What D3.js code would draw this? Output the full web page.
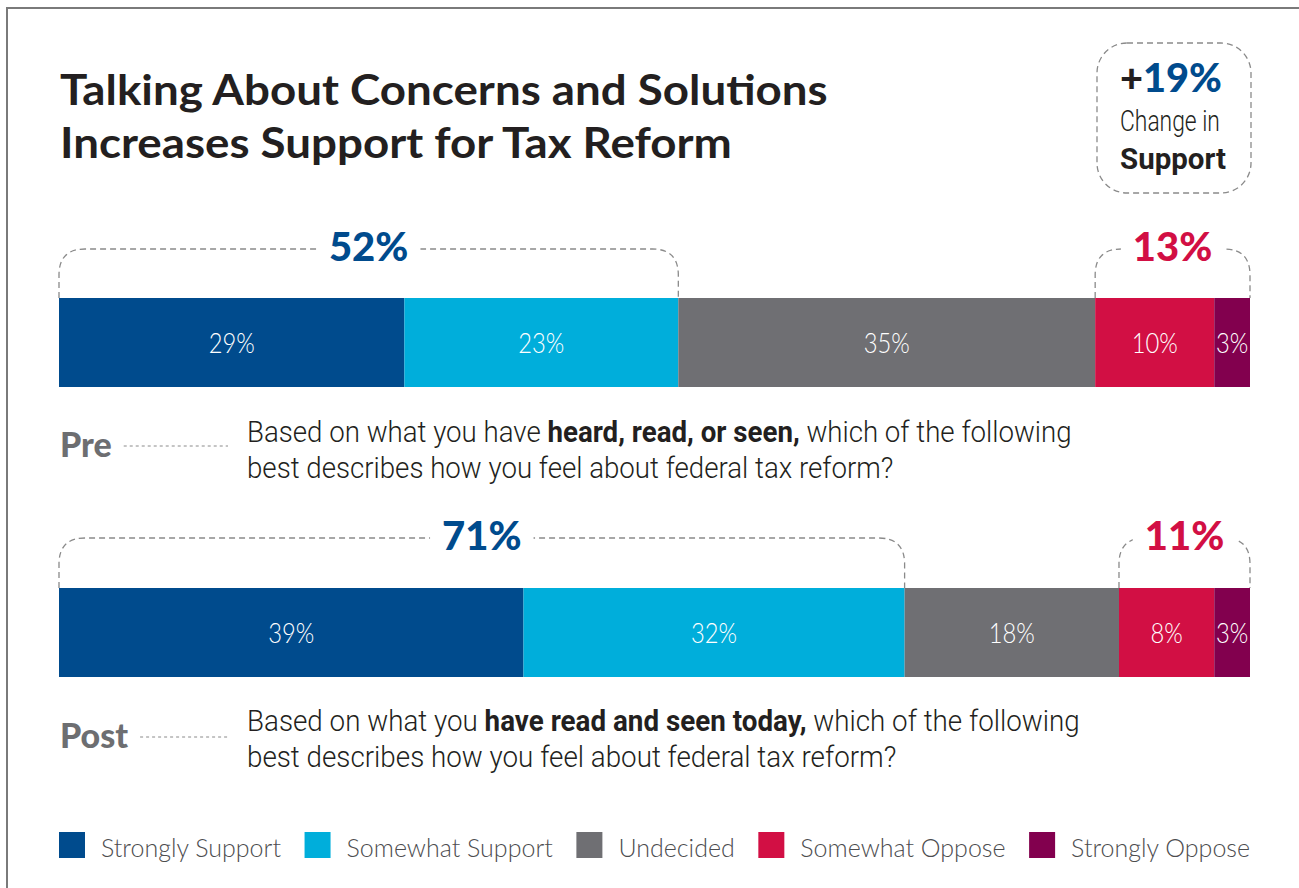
<!DOCTYPE html>
<html>
<head>
<meta charset="utf-8">
<script src="https://cdn.jsdelivr.net/npm/d3@7"></script>
<style>
  html, body { margin: 0; padding: 0; background: #fff; }
  svg { display: block; }
</style>
</head>
<body>
<svg id="chart" width="1299" height="888"></svg>
<script>
// Response categories and survey results (percent of respondents)
const categories = ["Strongly Support", "Somewhat Support", "Undecided", "Somewhat Oppose", "Strongly Oppose"];
const colors = ["#004b8d", "#00aedb", "#6f6f73", "#d20f44", "#82004e"];
const waves = ["Pre", "Post"];
const preValues = [29, 23, 35, 10, 3];
const postValues = [39, 32, 18, 8, 3];
const supportTotals = [52, 71];
const opposeTotals = [13, 11];
const supportChange = 19;

const questions = [
  [
    [["Based on what you have ", false], ["heard, read, or seen,", true], [" which of the following", false]],
    [["best describes how you feel about federal tax reform?", false]]
  ],
  [
    [["Based on what you ", false], ["have read and seen today,", true], [" which of the following", false]],
    [["best describes how you feel about federal tax reform?", false]]
  ]
];

const svg = d3.select("#chart");
const ink = "#231f20";
const gray = "#6d6e71";
const dashGray = "#8a8a8a";
const condensed = "'Roboto', 'Liberation Sans', sans-serif";

// horizontal compression of a text element to a given width, anchored at its x
function fitWidth(sel, width, anchorX) {
  const w = sel.node().getComputedTextLength();
  const k = width / w;
  sel.attr("transform", `translate(${anchorX},0) scale(${k},1) translate(${-anchorX},0)`);
}

// frame
svg.append("path")
  .attr("d", "M7,888 L7,8 L1299,8")
  .attr("fill", "none").attr("stroke", "#7a7a7a").attr("stroke-width", 2);

// title
const titleLines = ["Talking About Concerns and Solutions", "Increases Support for Tax Reform"];
const titleY = [105, 158];
let titleK = null;
titleLines.forEach((t, i) => {
  const el = svg.append("text")
    .attr("x", 60).attr("y", titleY[i])
    .attr("font-family", "Lato, sans-serif").attr("font-weight", 700)
    .attr("font-size", 42).attr("fill", ink)
    .text(t);
  if (titleK === null) titleK = 768 / el.node().getComputedTextLength();
  el.attr("transform", `translate(60,0) scale(${titleK},1) translate(-60,0)`);
});

// change-in-support callout
const box = svg.append("g");
box.append("rect")
  .attr("x", 1097).attr("y", 43).attr("width", 154).attr("height", 150)
  .attr("rx", 30).attr("ry", 30)
  .attr("fill", "none").attr("stroke", dashGray).attr("stroke-width", 1.3)
  .attr("stroke-dasharray", "6,4");
const big = box.append("text")
  .attr("x", 1120).attr("y", 92)
  .attr("font-family", "Lato, sans-serif").attr("font-weight", 900).attr("font-size", 40);
big.append("tspan").attr("fill", ink).text("+");
big.append("tspan").attr("fill", colors[0]).text(supportChange + "%");
fitWidth(big, 102, 1120);
const ch = box.append("text")
  .attr("x", 1120).attr("y", 131)
  .attr("font-family", condensed).attr("font-weight", 300).attr("font-size", 29).attr("fill", ink)
  .text("Change in");
fitWidth(ch, 100, 1120);
const sp = box.append("text")
  .attr("x", 1120).attr("y", 169)
  .attr("font-family", condensed).attr("font-weight", 700).attr("font-size", 29).attr("fill", ink)
  .text("Support");
fitWidth(sp, 106, 1120);

// scales
const x = d3.scaleLinear().domain([0, 100]).range([59, 1250]);
const barTop = [298, 588];
const barH = 89;
const bracketY = [249, 538];

function bracket(x0, x1, yTop, yBot, label, color) {
  const r = 26;
  const g = svg.append("g");
  g.append("path")
    .attr("d", `M${x0},${yBot} L${x0},${yTop + r} Q${x0},${yTop} ${x0 + r},${yTop} L${x1 - r},${yTop} Q${x1},${yTop} ${x1},${yTop + r} L${x1},${yBot}`)
    .attr("fill", "none").attr("stroke", dashGray).attr("stroke-width", 1.3)
    .attr("stroke-dasharray", "6,4");
  const cx = (x0 + x1) / 2;
  const bg = g.append("rect").attr("fill", "#fff");
  const t = g.append("text")
    .attr("x", cx).attr("y", yTop + 12).attr("text-anchor", "middle")
    .attr("font-family", "Lato, sans-serif").attr("font-weight", 900).attr("font-size", 40)
    .attr("fill", color).text(label);
  const bb = t.node().getBBox();
  bg.attr("x", bb.x - 12).attr("y", yTop - 10).attr("width", bb.width + 24).attr("height", 20);
}

[preValues, postValues].forEach((vals, wi) => {
  const stack = [];
  let acc = 0;
  vals.forEach((v, i) => { stack.push({ v, i, x0: acc, x1: acc + v }); acc += v; });

  const g = svg.append("g");
  g.selectAll("rect").data(stack).join("rect")
    .attr("x", d => x(d.x0))
    .attr("y", barTop[wi])
    .attr("width", d => x(d.x1) - x(d.x0))
    .attr("height", barH)
    .attr("fill", d => colors[d.i]);
  g.selectAll("text").data(stack).join("text")
    .attr("y", barTop[wi] + barH / 2 + 11)
    .attr("text-anchor", "middle")
    .attr("font-family", "Lato, sans-serif").attr("font-weight", 300).attr("font-size", 27)
    .attr("fill", "#fff")
    .attr("transform", d => {
      const cx = (x(d.x0) + x(d.x1)) / 2;
      return `translate(${cx},0) scale(0.88,1)`;
    })
    .text(d => d.v + "%");

  // support and oppose brackets
  bracket(x(0), x(vals[0] + vals[1]), bracketY[wi], barTop[wi], supportTotals[wi] + "%", colors[0]);
  bracket(x(100 - vals[3] - vals[4]), x(100), bracketY[wi], barTop[wi], opposeTotals[wi] + "%", colors[3]);
});

// wave labels and question wording
const labelY = [457, 748];
const qY = [442, 731];
const qWidth = [825, 833];
waves.forEach((w, wi) => {
  const lab = svg.append("text")
    .attr("x", 60).attr("y", labelY[wi])
    .attr("font-family", "Lato, sans-serif").attr("font-weight", 900).attr("font-size", 34)
    .attr("fill", gray).text(w);
  const lw = lab.node().getComputedTextLength();
  svg.append("line")
    .attr("x1", 60 + lw + 12).attr("x2", 228)
    .attr("y1", labelY[wi] - 11).attr("y2", labelY[wi] - 11)
    .attr("stroke", dashGray).attr("stroke-width", 1).attr("stroke-dasharray", "3,3");

  let scaleK = null;
  questions[wi].forEach((line, li) => {
    const t = svg.append("text")
      .attr("x", 247).attr("y", qY[wi] + li * 36)
      .attr("font-family", condensed).attr("font-size", 30).attr("fill", ink);
    line.forEach(([s, b]) => {
      t.append("tspan").attr("font-weight", b ? 700 : 300).text(s);
    });
    if (scaleK === null) {
      scaleK = qWidth[wi] / t.node().getComputedTextLength();
    }
    t.attr("transform", `translate(247,0) scale(${scaleK},1) translate(-247,0)`);
  });
});

// legend, spread across the bar width
const legend = svg.append("g");
const items = categories.map((c, i) => {
  const g = legend.append("g");
  g.append("rect").attr("width", 26).attr("height", 26).attr("y", 832).attr("fill", colors[i]);
  const t = g.append("text")
    .attr("x", 42).attr("y", 857)
    .attr("font-family", "Lato, sans-serif").attr("font-weight", 300).attr("font-size", 25)
    .attr("fill", "#4d4d4f").text(c);
  return { g, w: 42 + t.node().getComputedTextLength() };
});
const total = d3.sum(items, d => d.w);
const gap = (x(100) - x(0) - total) / (items.length - 1);
let lx = x(0);
items.forEach(it => {
  it.g.attr("transform", `translate(${lx},0)`);
  lx += it.w + gap;
});
</script>
</body>
</html>
